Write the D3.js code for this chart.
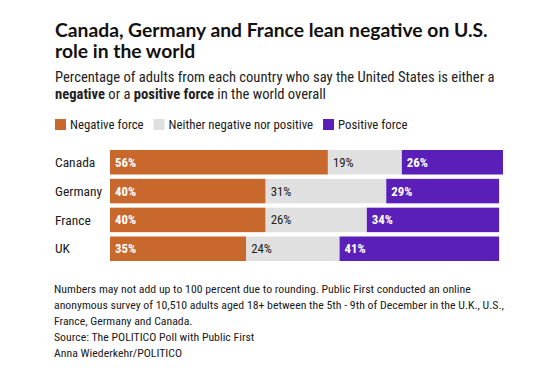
<!DOCTYPE html>
<html>
<head>
<meta charset="utf-8">
<script src="https://cdn.jsdelivr.net/npm/d3@7"></script>
<style>
body { margin: 0; background: #fff; }
text { font-family: 'Roboto Condensed', 'Roboto', sans-serif; fill: #1a1a1a; }
.title { font-family: 'Lato', sans-serif; font-weight: 700; font-size: 19.3px; fill: #111; }
</style>
</head>
<body>
<svg id="chart" width="560" height="375"></svg>
<script>

// data
var countries = ['Canada', 'Germany', 'France', 'UK']
var negative = [56, 40, 40, 35]
var neither = [19, 31, 26, 24]
var positive = [26, 29, 34, 41]
var series_names = ['Negative force', 'Neither negative nor positive', 'Positive force']
var colors = ['#c8682c', '#e0e0e0', '#5a1fb8']

var title_lines = ['Canada, Germany and France lean negative on U.S.', 'role in the world']
var note_lines = [
	'Numbers may not add up to 100 percent due to rounding. Public First conducted an online',
	'anonymous survey of 10,510 adults aged 18+ between the 5th - 9th of December in the U.K., U.S.,',
	'France, Germany and Canada.',
	'Source: The POLITICO Poll with Public First',
	'Anna Wiederkehr/POLITICO'
]

var svg = d3.select('#chart')

// title
svg.append('g')
	.selectAll('text')
	.data(title_lines)
	.enter()
	.append('text')
	.attr('class', 'title')
	.attr('x', 55)
	.attr('y', function(d, i) {return 37 + i * 21})
	.text(function(d) {return d})

// subtitle with bold words
var sub1 = svg.append('text').attr('x', 55).attr('y', 81.5).style('font-size', '14.6px').style('fill', '#222')
sub1.text('Percentage of adults from each country who say the United States is either a')
var sub2 = svg.append('text').attr('x', 55).attr('y', 98.5).style('font-size', '14.6px').style('fill', '#222')
sub2.append('tspan').style('font-weight', 700).text('negative')
sub2.append('tspan').text(' or a ')
sub2.append('tspan').style('font-weight', 700).text('positive force')
sub2.append('tspan').text(' in the world overall')

// legend
var legend = svg.append('g').attr('class', 'legend')
var lx = 55
series_names.forEach(function(name, i) {
	legend.append('rect')
		.attr('x', lx).attr('y', 119)
		.attr('width', 11).attr('height', 11)
		.attr('fill', colors[i])
	var t = legend.append('text')
		.attr('x', lx + 15).attr('y', 129)
		.style('font-size', '12.8px')
		.text(name)
	lx = lx + 15 + t.node().getComputedTextLength() + 10
})

// stacked bars
var rows = countries.map(function(c, i) {
	return {country: c, negative: negative[i], neither: neither[i], positive: positive[i]}
})
var keys = ['negative', 'neither', 'positive']
var stacked = d3.stack().keys(keys)(rows)

var x_scale = d3.scaleLinear()
	.domain([0, 101])
	.range([110, 503])

var y_scale = d3.scaleBand()
	.domain(countries)
	.range([150, 261])
	.paddingInner(0.15)

var g_bars = svg.append('g').attr('class', 'g-bars')

var layers = g_bars.selectAll('.layer')
	.data(stacked)
	.enter()
	.append('g')
	.attr('class', 'layer')
	.attr('fill', function(d, i) {return colors[i]})

layers.selectAll('rect')
	.data(function(d) {return d})
	.enter()
	.append('rect')
	.attr('x', function(d) {return x_scale(d[0])})
	.attr('y', function(d) {return y_scale(d.data.country)})
	.attr('width', function(d) {return x_scale(d[1]) - x_scale(d[0])})
	.attr('height', y_scale.bandwidth())

layers.each(function(layer, li) {
	d3.select(this).selectAll('text')
		.data(layer)
		.enter()
		.append('text')
		.attr('x', function(d) {return x_scale(d[0]) + 5})
		.attr('y', function(d) {return y_scale(d.data.country) + y_scale.bandwidth() / 2 + 4.5})
		.style('font-size', '12.8px')
		.style('font-weight', li == 1 ? 400 : 700)
		.style('fill', li == 1 ? '#222' : '#fff')
		.text(function(d) {return (d[1] - d[0]) + '%'})
})

// country labels
svg.append('g')
	.call(d3.axisLeft(y_scale).tickSize(0).tickPadding(0))
	.call(function(g) {g.select('.domain').remove()})
	.selectAll('text')
	.attr('x', 55)
	.attr('dy', '0.35em')
	.attr('text-anchor', 'start')
	.style('font-size', '13.5px')
	.style('font-family', "'Roboto Condensed', sans-serif")
	.style('fill', '#1a1a1a')

// notes
svg.append('g')
	.selectAll('text')
	.data(note_lines)
	.enter()
	.append('text')
	.attr('x', 54)
	.attr('y', function(d, i) {return 293 + i * 16})
	.style('font-size', '11.8px')
	.text(function(d) {return d})

</script>
</body>
</html>
